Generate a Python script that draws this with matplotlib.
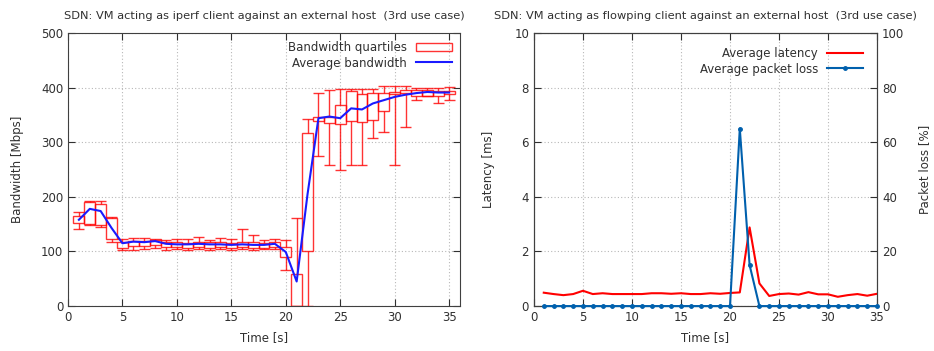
import numpy as np
import matplotlib
matplotlib.use('Agg')
import matplotlib.pyplot as plt
from matplotlib.patches import Patch
from matplotlib.lines import Line2D

# --- DATA ---
t = list(range(1, 36))

bw_mean = [158, 178, 174, 143, 115, 118, 117, 119, 114, 113, 113, 114, 113, 113, 112,
           113, 112, 112, 114, 99, 45, 205, 344, 347, 344, 362, 360, 371, 377, 383,
           387, 390, 392, 391, 391]
bw_q1 = [153, 150, 148, 123, 107, 110, 110, 112, 108, 108, 107, 108, 107, 108, 107,
         108, 107, 107, 108, 90, 0, 100, 339, 335, 334, 339, 337, 340, 357, 388,
         390, 384, 384, 384, 388]
bw_q3 = [165, 190, 187, 161, 118, 120, 119, 122, 117, 117, 116, 118, 117, 117, 116,
         117, 117, 116, 118, 109, 58, 316, 346, 346, 368, 393, 389, 391, 391, 392,
         395, 395, 395, 394, 393]
bw_lo = [141, 148, 145, 118, 103, 102, 105, 106, 103, 104, 103, 104, 103, 104, 103,
         104, 103, 104, 104, 66, 0, 0, 275, 258, 250, 258, 258, 308, 318, 258,
         327, 377, 384, 371, 377]
bw_hi = [172, 193, 192, 163, 122, 124, 124, 121, 121, 122, 122, 127, 121, 124, 122,
         141, 130, 121, 123, 121, 162, 342, 391, 396, 398, 397, 398, 397, 403, 403,
         403, 400, 400, 400, 401]

latency = [0.49, 0.44, 0.40, 0.44, 0.56, 0.44, 0.47, 0.44, 0.44, 0.44, 0.44, 0.47,
           0.47, 0.45, 0.47, 0.44, 0.44, 0.47, 0.45, 0.48, 0.50, 2.88, 0.83, 0.37,
           0.44, 0.46, 0.42, 0.51, 0.43, 0.43, 0.34, 0.40, 0.44, 0.38, 0.45]
loss = [0] * 19 + [0, 65, 15] + [0] * 13

RED = '#ff0000'
BLUE_BW = '#1a1aff'
BLUE_LOSS = '#0060ad'
GRID = dict(color='#b8b8b8', linestyle=(0, (1, 2)), linewidth=0.8)
FS = 8.5

plt.rcParams['font.family'] = 'DejaVu Sans'
plt.rcParams['font.size'] = FS
plt.rcParams['text.color'] = '#303030'
plt.rcParams['axes.labelcolor'] = '#303030'
plt.rcParams['xtick.color'] = '#303030'
plt.rcParams['ytick.color'] = '#303030'

fig = plt.figure(figsize=(9.34, 3.51), dpi=100)
ax1 = fig.add_axes([0.0728, 0.128, 0.4197, 0.778])
ax2 = fig.add_axes([0.5717, 0.128, 0.3673, 0.778])

# ---------------- left panel ----------------
t_arr = np.array(t)
q1 = np.array(bw_q1)
q3 = np.array(bw_q3)
ax1.bar(t_arr, q3 - q1, bottom=q1, width=1.0, fill=False, edgecolor=RED,
        linewidth=1.0, alpha=0.8, zorder=3)
ax1.vlines(t_arr, bw_lo, q1, color=RED, linewidth=1.0, alpha=0.8, zorder=3)
ax1.vlines(t_arr, q3, bw_hi, color=RED, linewidth=1.0, alpha=0.8, zorder=3)
ax1.hlines(bw_lo, t_arr - 0.5, t_arr + 0.5, color=RED, linewidth=1.0, alpha=0.8, zorder=3)
ax1.hlines(bw_hi, t_arr - 0.5, t_arr + 0.5, color=RED, linewidth=1.0, alpha=0.8, zorder=3)
ax1.plot(t_arr, bw_mean, color=BLUE_BW, linewidth=1.5, zorder=4)

ax1.set_xlim(0, 36)
ax1.set_ylim(0, 500)
ax1.set_xticks(range(0, 36, 5))
ax1.set_yticks(range(0, 501, 100))
ax1.grid(True, **GRID)
ax1.set_axisbelow(True)
ax1.tick_params(direction='in', top=True, right=True, length=5, labelsize=FS)
ax1.set_xlabel('Time [s]', fontsize=FS, labelpad=5)
ax1.set_ylabel('Bandwidth [Mbps]', fontsize=FS, labelpad=12)
ax1.set_title('SDN: VM acting as iperf client against an external host  (3rd use case)',
              fontsize=8.2, pad=10)

handles1 = [Patch(facecolor='none', edgecolor=RED, alpha=0.8, label='Bandwidth quartiles'),
            Line2D([], [], color=BLUE_BW, linewidth=1.5, label='Average bandwidth')]
ax1.legend(handles=handles1, loc='upper right', frameon=False, markerfirst=False,
           fontsize=FS, handlelength=3.0, borderaxespad=0.3, labelspacing=0.2)

# ---------------- right panel ----------------
ax2.plot(t, latency, color=RED, linewidth=1.5, zorder=3)
ax2.set_xlim(0, 35)
ax2.set_ylim(0, 10)
ax2.set_xticks(range(0, 36, 5))
ax2.set_yticks(range(0, 11, 2))
ax2.grid(True, **GRID)
ax2.set_axisbelow(True)
ax2.tick_params(direction='in', top=True, right=False, length=5, labelsize=FS)
ax2.set_xlabel('Time [s]', fontsize=FS, labelpad=5)
ax2.set_ylabel('Latency [ms]', fontsize=FS, labelpad=14)
ax2.set_title('SDN: VM acting as flowping client against an external host  (3rd use case)',
              fontsize=8.2, pad=10)

ax3 = ax2.twinx()
ax3.plot(t, loss, color=BLUE_LOSS, linewidth=1.5, marker='o', markersize=2.5, zorder=3,
         clip_on=False)
ax3.set_ylim(0, 100)
ax3.set_yticks(range(0, 101, 20))
ax3.tick_params(direction='in', length=5, labelsize=FS)
ax3.set_ylabel('Packet loss [%]', fontsize=FS, labelpad=10)

handles2 = [Line2D([], [], color=RED, linewidth=1.5, label='Average latency'),
            Line2D([], [], color=BLUE_LOSS, linewidth=1.5, marker='o', markersize=2.5,
                   label='Average packet loss')]
ax3.legend(handles=handles2, loc='upper right', frameon=False, markerfirst=False,
           fontsize=FS, handlelength=3.0, borderaxespad=0.8, labelspacing=0.2)

for ax in (ax1, ax2, ax3):
    for s in ax.spines.values():
        s.set_color('#404040')

fig.savefig('out.png', dpi=100)
